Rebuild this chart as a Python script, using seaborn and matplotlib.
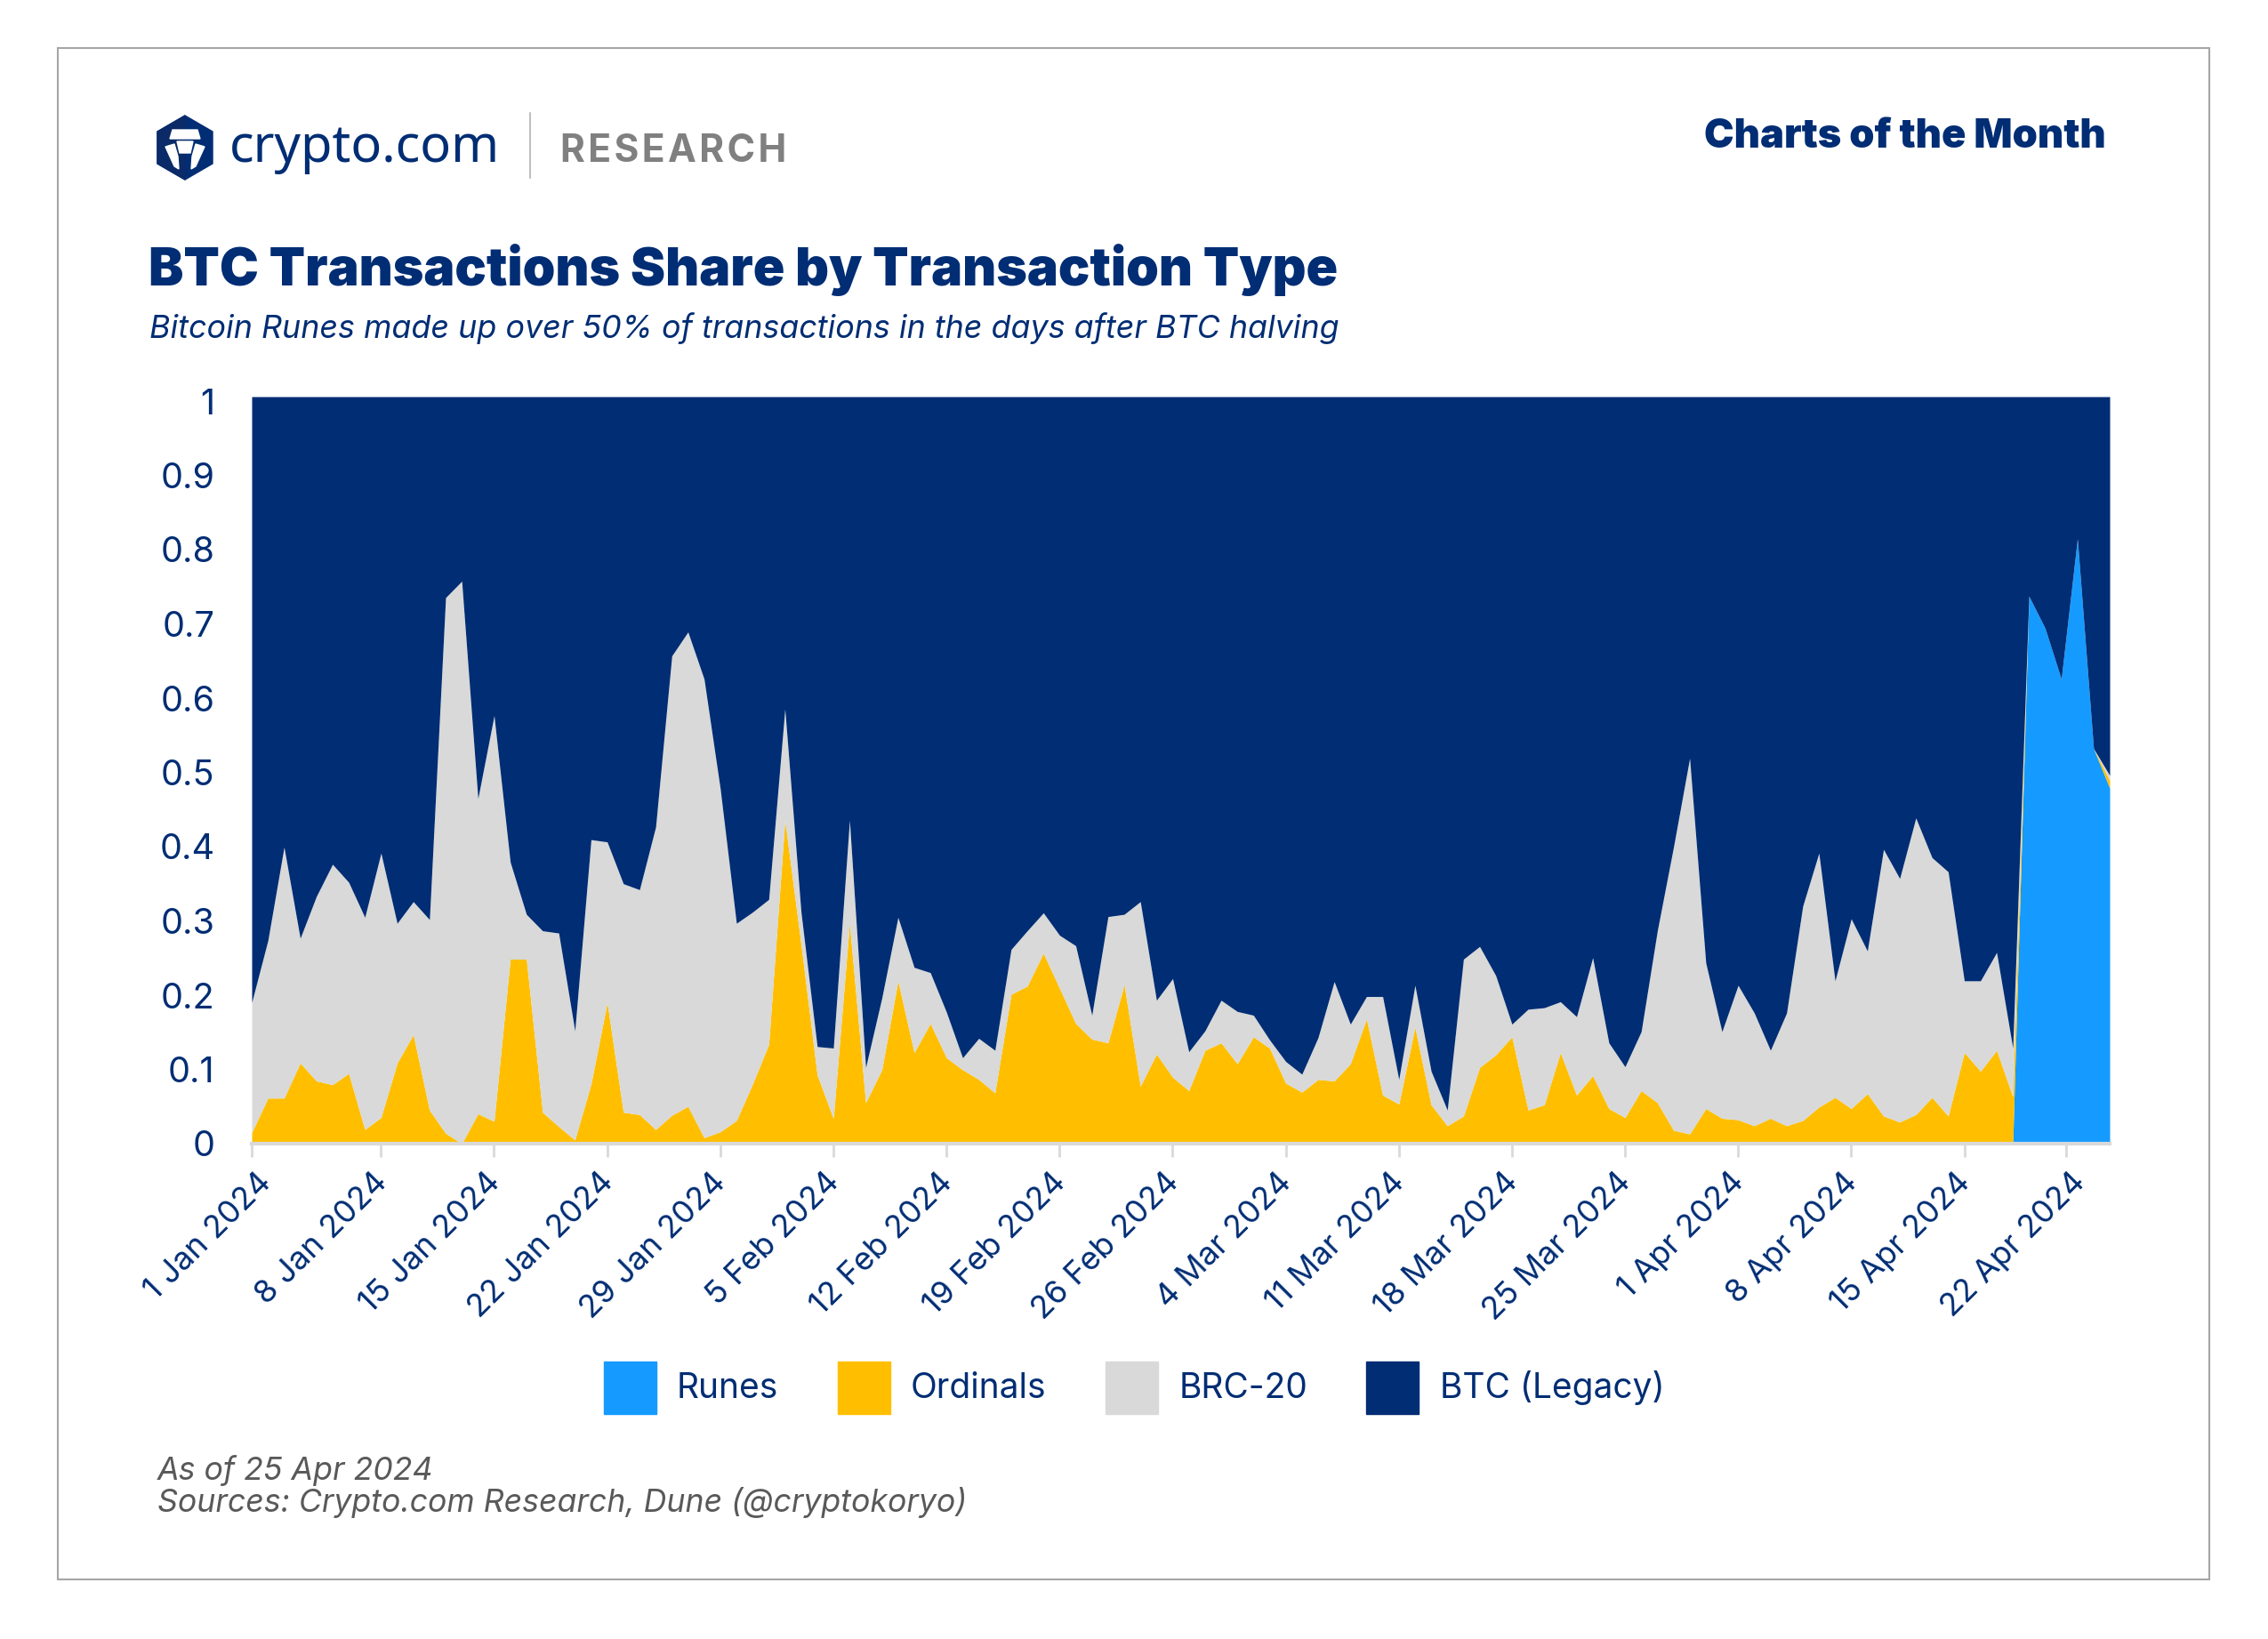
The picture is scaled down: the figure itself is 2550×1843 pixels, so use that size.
import pandas as pd
import matplotlib.pyplot as plt
from matplotlib.patches import Patch, Polygon, Rectangle
from matplotlib.transforms import ScaledTranslation
import seaborn as sns

NAVY = "#002D74"
# warna tiap tipe transaksi
COLORS = {"Runes": "#159BFF", "Ordinals": "#FFBF00", "BRC-20": "#D8D9D8", "BTC (Legacy)": NAVY}

# nilai, satu titik per hari
RUNES = [0] * 110 + [.733, .690, .622, .810, .529, .476]

ORDINALS = [
    .015, .061, .061, .108, .084, .079, .094, .019, .035, .108,
    .146, .045, .014, 0, .040, .030, .247, .247, .042, .023,
    .005, .080, .189, .042, .039, .019, .038, .050, .008, .016,
    .031, .080, .133, .433, .267, .092, .034, .295, .055, .099,
    .218, .122, .161, .115, .099, .086, .068, .200, .211, .255,
    .208, .161, .140, .135, .213, .077, .120, .089, .071, .125,
    .135, .107, .143, .128, .081, .069, .086, .084, .107, .167,
    .065, .053, .156, .052, .024, .037, .102, .119, .143, .045,
    .052, .122, .065, .091, .047, .035, .071, .055, .018, .013,
    .047, .034, .032, .024, .034, .024, .031, .049, .062, .047,
    .067, .037, .029, .039, .062, .037, .122, .097, .125, .063,
    0, 0, 0, 0, 0, .010,
]

BRC20 = [
    .174, .211, .336, .167, .247, .295, .256, .284, .354, .187,
    .178, .255, .717, .753, .422, .543, .130, .060, .243, .259,
    .146, .327, .215, .306, .301, .405, .615, .635, .614, .459,
    .264, .230, .194, .149, .043, .038, .094, .138, .047, .096,
    .085, .114, .068, .061, .016, .055, .057, .060, .074, .054,
    .071, .104, .032, .169, .094, .247, .072, .132, .052, .026,
    .057, .070, .029, .011, .029, .024, .056, .133, .053, .030,
    .132, .033, .056, .045, .021, .210, .162, .106, .017, .135,
    .130, .068, .105, .158, .088, .068, .079, .230, .379, .503,
    .195, .116, .180, .151, .091, .151, .287, .340, .156, .254,
    .191, .357, .326, .397, .321, .327, .096, .121, .131, .065,
    0, 0, 0, 0, 0, .007,
]

BTC_LEGACY = [
    .811, .728, .603, .725, .669, .626, .650, .697, .611, .705,
    .676, .700, .269, .247, .538, .427, .623, .693, .715, .718,
    .849, .593, .596, .652, .660, .576, .347, .315, .378, .525,
    .705, .690, .673, .418, .690, .870, .872, .567, .898, .805,
    .697, .764, .771, .824, .885, .859, .875, .740, .715, .691,
    .721, .735, .828, .696, .693, .676, .808, .779, .877, .849,
    .808, .823, .828, .861, .890, .907, .858, .783, .840, .803,
    .803, .914, .788, .903, .955, .753, .736, .775, .840, .820,
    .818, .810, .830, .751, .865, .897, .850, .715, .603, .484,
    .758, .850, .788, .825, .875, .825, .682, .611, .782, .699,
    .742, .606, .645, .564, .617, .636, .782, .782, .744, .872,
    .267, .310, .378, .190, .471, .507,
]

TICK_DAYS = [0, 8, 15, 22, 29, 36, 43, 50, 57, 64, 71, 78, 85, 92, 99, 106, 112.3]
TICK_LABELS = [
    "1 Jan 2024", "8 Jan 2024", "15 Jan 2024", "22 Jan 2024", "29 Jan 2024",
    "5 Feb 2024", "12 Feb 2024", "19 Feb 2024", "26 Feb 2024", "4 Mar 2024",
    "11 Mar 2024", "18 Mar 2024", "25 Mar 2024", "1 Apr 2024", "8 Apr 2024",
    "15 Apr 2024", "22 Apr 2024",
]
Y_TICKS = [0, .1, .2, .3, .4, .5, .6, .7, .8, .9, 1]
Y_LABELS = ["0", "0.1", "0.2", "0.3", "0.4", "0.5", "0.6", "0.7", "0.8", "0.9", "1"]

sns.set_theme(style="white")
plt.rcParams["font.family"] = ["Inter", "DejaVu Sans"]

W, H = 2550, 1843
fig = plt.figure(figsize=(W / 100, H / 100), dpi=100, facecolor="white")

# kanvas piksel untuk bingkai, logo dan teks
bg = fig.add_axes([0, 0, 1, 1])
bg.set_xlim(0, W)
bg.set_ylim(H, 0)
bg.axis("off")

bg.add_patch(Rectangle((65, 54), 2419, 1722, fill=False, edgecolor="#A6A6A6", linewidth=1.5))

# logo
bg.add_patch(Polygon([(208, 130), (239, 148), (239, 184), (208, 202), (177, 184), (177, 148)], color=NAVY))
bg.add_patch(Polygon([(208, 130), (177, 148), (177, 184), (208, 202)], color="#0A2A68"))
bg.add_patch(Polygon([(194, 146), (222, 146), (225, 156), (191, 156)], color="white"))
bg.add_patch(Polygon([(199, 159), (217, 159), (214, 172), (202, 172)], color="white"))
bg.add_patch(Polygon([(186, 165), (196, 162), (200, 176), (201, 190), (196, 187)], color="white"))
bg.add_patch(Polygon([(230, 165), (220, 162), (216, 176), (215, 190), (220, 187)], color="white"))
bg.text(258, 167, "crypto.com", color=NAVY, fontsize=41.6, family="Noto Sans", weight="semibold", va="center")
bg.plot([596, 596], [127, 200], color="#BFBFBF", lw=1.5)
bg.text(630, 170, "R\u200aE\u200aS\u200aE\u200aA\u200aR\u200aC\u200aH", color="#808080", fontsize=30.7, weight="bold", va="center")
bg.text(2368, 154, "Charts of the Month", color=NAVY, fontsize=32.5, weight=900, va="center", ha="right")

bg.text(167, 321, "BTC Transactions Share by Transaction Type", color=NAVY, fontsize=42.4, weight=900, va="baseline")
bg.text(168, 380, "Bitcoin Runes made up over 50% of transactions in the days after BTC halving",
        color=NAVY, fontsize=25.8, style="italic", va="baseline")

bg.text(177, 1664, "As of 25 Apr 2024", color="#595959", fontsize=25.7, style="italic", va="baseline")
bg.text(177, 1700, "Sources: Crypto.com Research, Dune (@cryptokoryo)", color="#595959", fontsize=25.7,
        style="italic", va="baseline")

# area bertumpuk
ax = fig.add_axes([283 / W, 1 - 1286 / H, (2372 - 283) / W, (1286 - 446) / H])
frames = []
for name, values in [("Runes", RUNES), ("Ordinals", ORDINALS), ("BRC-20", BRC20), ("BTC (Legacy)", BTC_LEGACY)]:
    frames.append(pd.DataFrame({"day": range(len(values)), "share": values, "type": name}))
df = pd.concat(frames, ignore_index=True)

sns.histplot(data=df, x="day", weights="share", hue="type", multiple="stack", element="poly", discrete=True,
             hue_order=["BTC (Legacy)", "BRC-20", "Ordinals", "Runes"], palette=COLORS,
             alpha=1, linewidth=0, legend=False, ax=ax)

ax.set_xlim(0, 115)
ax.set_ylim(0, 1)
ax.set_xlabel("")
ax.set_ylabel("")
ax.set_yticks(Y_TICKS, Y_LABELS, color=NAVY, fontsize=28.5)
ax.tick_params(axis="y", length=0, pad=30)
ax.set_xticks(TICK_DAYS)
ax.set_xticklabels(TICK_LABELS, rotation=45, ha="right", va="top", rotation_mode="anchor", color=NAVY, fontsize=25.8)
ax.tick_params(axis="x", length=11, width=2, color="#D9D9D9", pad=8, bottom=True)

# label tanggal: ujung pertama & terakhir lebih ke kanan dari yang lain
x_labels = ax.get_xticklabels()
for i, lab in enumerate(x_labels):
    dx = 5 if i in (0, len(x_labels) - 1) else -10
    lab.set_transform(lab.get_transform() + ScaledTranslation(dx / 100, 0, fig.dpi_scale_trans))
# label y makin ke atas makin turun sedikit
for val, lab in zip(Y_TICKS, ax.get_yticklabels()):
    lab.set_transform(lab.get_transform() + ScaledTranslation(0, -5 * val / 100, fig.dpi_scale_trans))

for side in ["top", "left", "right"]:
    ax.spines[side].set_visible(False)
ax.spines["bottom"].set_color("#D9D9D9")
ax.spines["bottom"].set_linewidth(3)

handles = [Patch(color=COLORS[k]) for k in ["Runes", "Ordinals", "BRC-20", "BTC (Legacy)"]]
fig.legend(handles, ["Runes", "Ordinals", "BRC-20", "BTC (Legacy)"], ncol=4, frameon=False,
           loc="center", bbox_to_anchor=(0.5, 0.1535), fontsize=28, labelcolor=NAVY,
           handlelength=1.52, handleheight=1.95, handletextpad=0.6, columnspacing=1.7)

fig.savefig("out.png", dpi=100)
